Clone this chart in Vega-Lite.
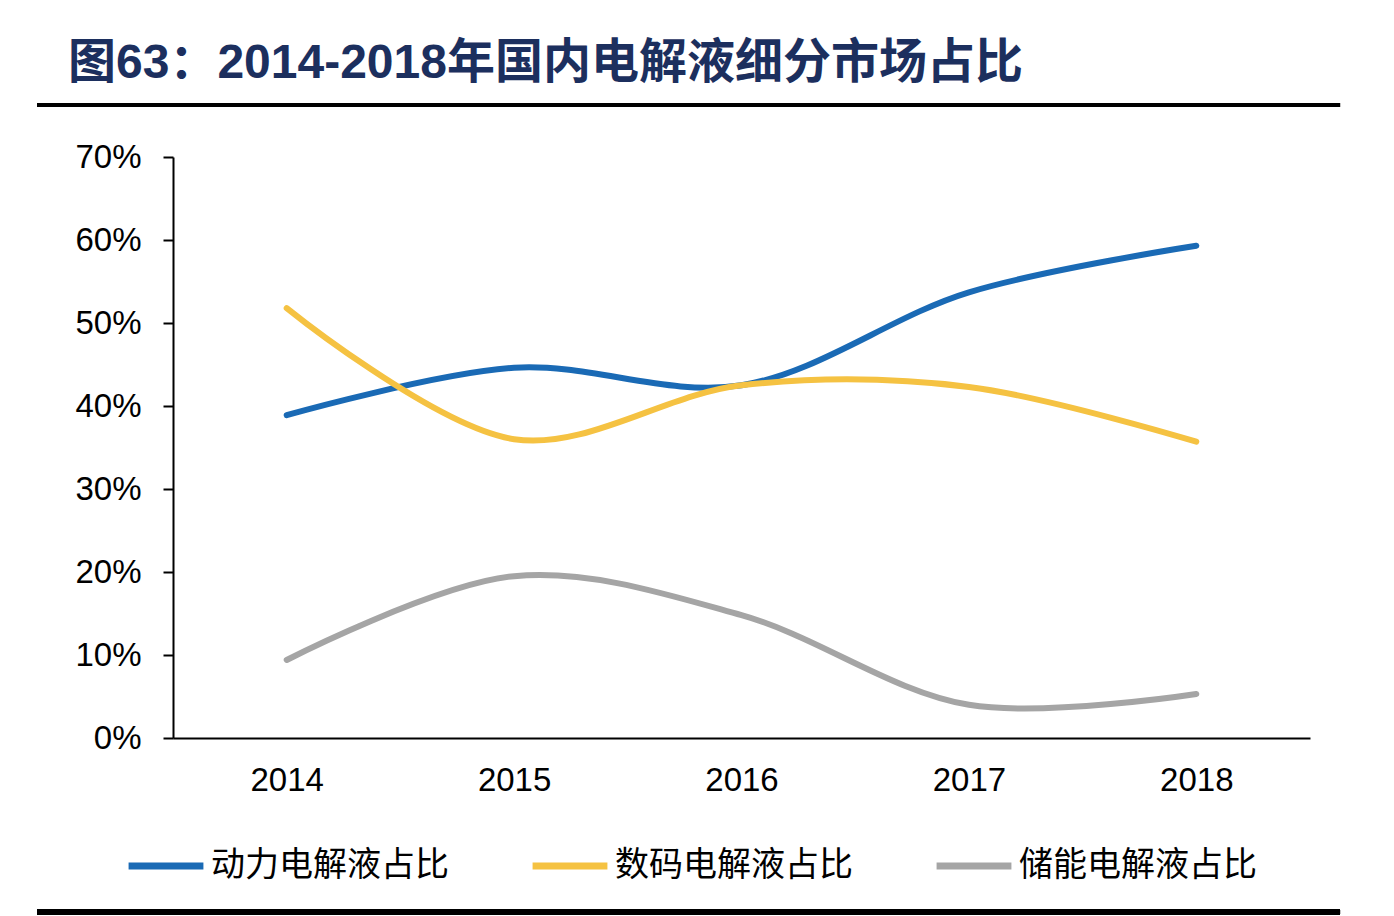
{
  "$schema": "https://vega.github.io/schema/vega-lite/v6.json",
  "width": 1137,
  "height": 581,
  "autosize": {"type": "none"},
  "padding": {"left": 173, "top": 157, "right": 84, "bottom": 178},
  "background": "white",
  "title": {
    "text": "图63：2014-2018年国内电解液细分市场占比",
    "anchor": "start",
    "frame": "group",
    "orient": "top",
    "dx": -105,
    "offset": 15,
    "font": "Liberation Sans, Noto Sans CJK SC",
    "fontSize": 48,
    "fontWeight": "bold",
    "color": "#1c2f5e"
  },
  "config": {
    "view": {"stroke": null},
    "axis": {
      "grid": false,
      "domainColor": "#000000",
      "domainWidth": 2,
      "tickColor": "#000000",
      "tickWidth": 2,
      "labelColor": "#000000",
      "labelFont": "Liberation Sans",
      "labelFontSize": 33,
      "title": null
    }
  },
  "data": {
    "values": [
      {"year": 2014, "series": "动力电解液占比", "share": 0.389},
      {"year": 2015, "series": "动力电解液占比", "share": 0.446},
      {"year": 2016, "series": "动力电解液占比", "share": 0.425},
      {"year": 2017, "series": "动力电解液占比", "share": 0.537},
      {"year": 2018, "series": "动力电解液占比", "share": 0.593},
      {"year": 2014, "series": "数码电解液占比", "share": 0.518},
      {"year": 2015, "series": "数码电解液占比", "share": 0.360},
      {"year": 2016, "series": "数码电解液占比", "share": 0.425},
      {"year": 2017, "series": "数码电解液占比", "share": 0.423},
      {"year": 2018, "series": "数码电解液占比", "share": 0.357},
      {"year": 2014, "series": "储能电解液占比", "share": 0.094},
      {"year": 2015, "series": "储能电解液占比", "share": 0.195},
      {"year": 2016, "series": "储能电解液占比", "share": 0.148},
      {"year": 2017, "series": "储能电解液占比", "share": 0.040},
      {"year": 2018, "series": "储能电解液占比", "share": 0.053}
    ]
  },
  "layer": [
    {
      "mark": {"type": "line", "interpolate": "catmull-rom", "strokeWidth": 6, "strokeCap": "round"},
      "encoding": {
        "x": {
          "field": "year",
          "type": "quantitative",
          "scale": {"domain": [2013.5, 2018.5], "nice": false, "zero": false},
          "axis": {"values": [2014, 2015, 2016, 2017, 2018], "format": "d", "ticks": false, "labelPadding": 26}
        },
        "y": {
          "field": "share",
          "type": "quantitative",
          "scale": {"domain": [0, 0.7], "nice": false},
          "axis": {"values": [0, 0.1, 0.2, 0.3, 0.4, 0.5, 0.6, 0.7], "format": ".0%", "tickSize": 10, "labelPadding": 22}
        },
        "color": {
          "field": "series",
          "type": "nominal",
          "sort": ["动力电解液占比", "数码电解液占比", "储能电解液占比"],
          "scale": {
            "domain": ["动力电解液占比", "数码电解液占比", "储能电解液占比"],
            "range": ["#1a6ab5", "#f5c242", "#a5a5a5"]
          },
          "legend": {
            "title": null,
            "orient": "none",
            "direction": "horizontal",
            "legendX": -48,
            "legendY": 668,
            "symbolType": "stroke",
            "symbolSize": 5600,
            "symbolStrokeWidth": 7,
            "labelFont": "Noto Sans CJK SC",
            "labelFontSize": 34,
            "labelColor": "#000000",
            "labelOffset": 4,
            "labelLimit": 400,
            "columnPadding": 69
          }
        }
      }
    },
    {
      "mark": {"type": "rule", "color": "#000000", "strokeWidth": 4},
      "encoding": {
        "x": {"datum": 2012.902},
        "x2": {"datum": 2018.632},
        "y": {"datum": 0.7627}
      }
    },
    {
      "mark": {"type": "rule", "color": "#000000", "strokeWidth": 5},
      "encoding": {
        "x": {"datum": 2012.902},
        "x2": {"datum": 2018.632},
        "y": {"datum": -0.2096}
      }
    }
  ]
}
